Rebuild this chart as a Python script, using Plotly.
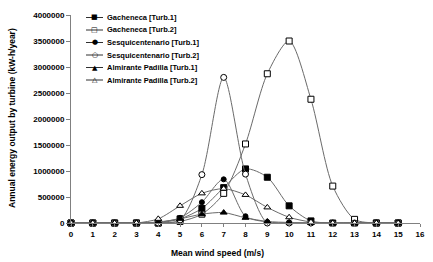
import plotly.graph_objects as go

wind_speed = list(range(0, 16))

gacheneca_t1 = [0, 0, 0, 0, 0, 80000, 280000, 680000, 1040000, 880000, 330000, 40000, 0, 0, 0, 0]
gacheneca_t2 = [0, 0, 0, 0, 0, 30000, 170000, 570000, 1520000, 2870000, 3500000, 2380000, 710000, 70000, 0, 0]
sesqui_t1 = [0, 0, 0, 0, 10000, 100000, 400000, 840000, 130000, 20000, 0, 0, 0, 0, 0, 0]
sesqui_t2 = [0, 0, 0, 0, 0, 60000, 930000, 2800000, 940000, 0, 0, 0, 0, 0, 0, 0]
almirante_t1 = [0, 0, 0, 0, 20000, 80000, 170000, 200000, 100000, 30000, 10000, 0, 0, 0, 0, 0]
almirante_t2 = [0, 0, 0, 0, 80000, 330000, 570000, 660000, 540000, 300000, 110000, 20000, 0, 0, 0, 0]

series_names = [
    "Gacheneca [Turb.1]",
    "Gacheneca [Turb.2]",
    "Sesquicentenario [Turb.1]",
    "Sesquicentenario [Turb.2]",
    "Almirante Padilla [Turb.1]",
    "Almirante Padilla [Turb.2]",
]
series_values = [gacheneca_t1, gacheneca_t2, sesqui_t1, sesqui_t2, almirante_t1, almirante_t2]
symbols = ["square", "square", "circle", "circle", "triangle-up", "triangle-up"]
legend_glyphs = ["■", "□", "●", "○", "▲", "△"]
fills = ["black", "white", "black", "white", "black", "white"]
sizes = [6, 6, 5, 6, 6, 6]

x_ticks = list(range(0, 17))
y_ticks = [0, 500000, 1000000, 1500000, 2000000, 2500000, 3000000, 3500000, 4000000]

W, H = 433, 262
L, R, T, B = 71, 13, 15, 39
pw, ph = W - L - R, H - T - B


def px_x(p):
    return (p - L) / pw


def px_y(p):
    return (H - B - p) / ph


fig = go.Figure()
for name, vals, sym, fc, sz in zip(series_names, series_values, symbols, fills, sizes):
    fig.add_trace(go.Scatter(
        x=wind_speed, y=vals, name=name, mode="lines+markers",
        line=dict(color="#6a6a6a", width=1, shape="spline", smoothing=0.8),
        marker=dict(symbol=sym, size=sz, color=fc, line=dict(color="black", width=1)),
        cliponaxis=False, showlegend=False,
    ))

fam = "Liberation Sans, Arial, sans-serif"
tickfont = dict(family=fam, size=8, color="black", weight="bold")

annotations = []
shapes = []
for i, (name, glyph) in enumerate(zip(series_names, legend_glyphs)):
    yc = 17.5 + i * 12.5
    shapes.append(dict(type="line", xref="paper", yref="paper",
                       x0=px_x(86), x1=px_x(103), y0=px_y(yc), y1=px_y(yc),
                       line=dict(color="#303030", width=1)))
    annotations.append(dict(xref="paper", yref="paper", x=px_x(94.5), y=px_y(yc),
                            text=glyph, showarrow=False, xanchor="center", yanchor="middle",
                            font=dict(family="DejaVu Sans", size=7, color="black")))
    annotations.append(dict(xref="paper", yref="paper", x=px_x(105), y=px_y(yc),
                            text=name, showarrow=False, xanchor="left", yanchor="middle",
                            font=dict(family=fam, size=7.5, color="black", weight="bold")))

annotations.append(dict(xref="paper", yref="paper", x=px_x(217), y=px_y(252.5),
                        text="Mean wind speed (m/s)", showarrow=False,
                        xanchor="center", yanchor="middle",
                        font=dict(family=fam, size=8.5, color="black", weight="bold")))
annotations.append(dict(xref="paper", yref="paper", x=px_x(12), y=px_y(118),
                        text="Annual energy output by turbine (kW-h/year)", showarrow=False,
                        textangle=-90, xanchor="center", yanchor="middle",
                        font=dict(family=fam, size=8.5, color="black", weight="bold")))

fig.update_layout(
    width=W, height=H,
    margin=dict(l=L, r=R, t=T, b=B, autoexpand=False),
    paper_bgcolor="white", plot_bgcolor="white",
    showlegend=False,
    annotations=annotations,
    shapes=shapes,
    xaxis=dict(
        range=[0, 16], tickvals=x_ticks, ticktext=[str(v) for v in x_ticks],
        showgrid=False, zeroline=False, showline=True, linecolor="#808080", linewidth=1,
        ticks="outside", ticklen=3, tickcolor="#808080",
        tickfont=tickfont, automargin=False,
    ),
    yaxis=dict(
        range=[0, 4000000], tickvals=y_ticks, ticktext=[str(v) for v in y_ticks],
        showgrid=False, zeroline=False, showline=True, linecolor="#808080", linewidth=1,
        ticks="outside", ticklen=4, tickcolor="#808080",
        tickfont=tickfont, automargin=False,
    ),
)

fig.write_html("out.html", config={"displayModeBar": False},
               post_script="document.body.style.margin='0';document.body.style.overflow='hidden';")
